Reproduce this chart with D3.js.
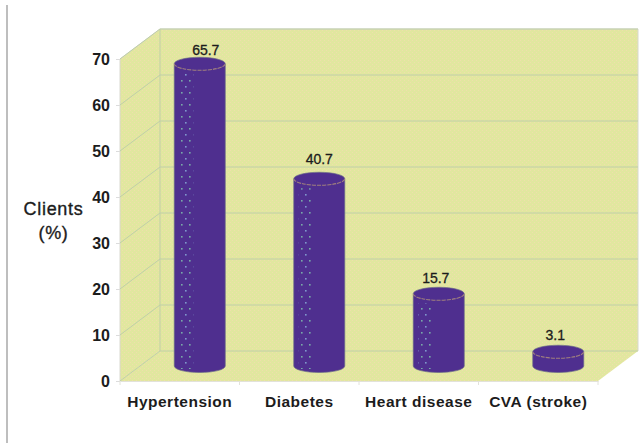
<!DOCTYPE html>
<html>
<head>
<meta charset="utf-8">
<script src="https://cdn.jsdelivr.net/npm/d3@7"></script>
<style>
  html, body { margin: 0; padding: 0; background: #fff; }
  svg { display: block; }
  text { font-family: "Liberation Sans", Arial, sans-serif; fill: #1c1c1c; }
</style>
</head>
<body>
<svg id="chart" width="644" height="443"></svg>
<script>
const categories = ["Hypertension", "Diabetes", "Heart disease", "CVA (stroke)"];
const clientPercent = [65.7, 40.7, 15.7, 3.1];
const percentTicks = [0, 10, 20, 30, 40, 50, 60, 70];
const axisTitle = ["Clients", "(%)"];

const svg = d3.select("#chart");
const defs = svg.append("defs");

// Front edge of the 3D box; the back wall is this plane pushed by depth
const depth = { x: 40, y: -30 };
const x = d3.scaleBand().domain(categories).range([120, 598]);
const y = d3.scaleLinear().domain([0, 70]).range([381, 59]);

const wallColor = "#e1e79f";
const gridColor = "#bfcfa8";
const barColor = "#4f2f8f";

// Stippled wall fill
const wallPattern = defs.append("pattern")
  .attr("id", "wallDots").attr("patternUnits", "userSpaceOnUse")
  .attr("width", 4).attr("height", 4);
wallPattern.append("rect").attr("width", 4).attr("height", 4).attr("fill", wallColor);
wallPattern.append("rect").attr("x", 0).attr("y", 0).attr("width", 1).attr("height", 1).attr("fill", "#efdfac");
wallPattern.append("rect").attr("x", 2).attr("y", 2).attr("width", 1).attr("height", 1).attr("fill", "#efdfac");

// Sparse pale highlight flecks on the lit side of each cylinder
const flecks = defs.append("pattern")
  .attr("id", "barFlecks").attr("patternUnits", "userSpaceOnUse")
  .attr("width", 8).attr("height", 12);
flecks.append("rect").attr("x", 1).attr("y", 2).attr("width", 1.6).attr("height", 1.6).attr("fill", "#7f97cc");
flecks.append("rect").attr("x", 5).attr("y", 8).attr("width", 1.6).attr("height", 1.6).attr("fill", "#78a8a8");

// Page rule down the left margin
svg.append("line")
  .attr("x1", 7).attr("x2", 7).attr("y1", 5).attr("y2", 443)
  .attr("stroke", "#a3a3a3").attr("stroke-width", 1.4);

// Box: side wall, floor and back wall
const [x0, x1] = x.range();
const yBottom = y(0), yTop = y(70);
const boxFaces = [
  [[x0, yBottom], [x0 + depth.x, yBottom + depth.y], [x0 + depth.x, yTop + depth.y], [x0, yTop]],
  [[x0, yBottom], [x1, yBottom], [x1 + depth.x, yBottom + depth.y], [x0 + depth.x, yBottom + depth.y]],
  [[x0 + depth.x, yBottom + depth.y], [x1 + depth.x, yBottom + depth.y], [x1 + depth.x, yTop + depth.y], [x0 + depth.x, yTop + depth.y]]
];
svg.append("g").selectAll("path").data(boxFaces).join("path")
  .attr("d", d => d3.line()(d) + "Z")
  .attr("fill", "url(#wallDots)");

// Outer edges of the box
svg.append("path")
  .attr("d", d3.line()([[x0, yBottom], [x0, yTop], [x0 + depth.x, yTop + depth.y], [x1 + depth.x, yTop + depth.y], [x1 + depth.x, yBottom + depth.y]]))
  .attr("fill", "none").attr("stroke", "#d8d8d0").attr("stroke-width", 1);

// Gridlines wrap from the side wall across the back wall
svg.append("g").selectAll("path").data(percentTicks).join("path")
  .attr("d", t => d3.line()([
    [x0, y(t)],
    [x0 + depth.x, y(t) + depth.y],
    [x1 + depth.x, y(t) + depth.y]
  ]))
  .attr("fill", "none").attr("stroke", gridColor).attr("stroke-width", 1);

// Back corner of the box
svg.append("line")
  .attr("x1", x0 + depth.x).attr("x2", x0 + depth.x)
  .attr("y1", yBottom + depth.y).attr("y2", yTop + depth.y)
  .attr("stroke", gridColor).attr("stroke-width", 1);

// Value axis: labels and short ticks
const yAxis = svg.append("g")
  .attr("transform", `translate(${x0},0)`)
  .call(d3.axisLeft(y).tickValues(percentTicks).tickSize(4).tickPadding(6));
yAxis.select(".domain").remove();
yAxis.selectAll("line").attr("stroke", "#dcdcdc");
yAxis.selectAll("text")
  .style("font-family", '"Liberation Sans", Arial, sans-serif')
  .style("font-size", "16px").style("font-weight", "bold").attr("fill", "#1c1c1c");

// Category axis: labels and separators along the front edge
const xAxis = svg.append("g")
  .attr("transform", `translate(0,${yBottom})`)
  .call(d3.axisBottom(x).tickSize(0).tickPadding(15));
xAxis.select(".domain").attr("stroke", "#e2e2da");
xAxis.selectAll("text")
  .style("font-family", '"Liberation Sans", Arial, sans-serif')
  .style("font-size", "15.5px").style("font-weight", "bold")
  .style("letter-spacing", "0.5px").attr("fill", "#1c1c1c");
xAxis.append("g").selectAll("line")
  .data(categories.map(c => x(c)).concat(x1)).join("line")
  .attr("x1", d => d).attr("x2", d => d).attr("y1", 0).attr("y2", 4)
  .attr("stroke", "#e2e2da");

// Axis title
svg.append("g").selectAll("text").data(axisTitle).join("text")
  .attr("x", 53.5).attr("y", (d, i) => 215 + i * 24)
  .attr("text-anchor", "middle")
  .style("font-size", "18px").style("letter-spacing", "0.7px")
  .style("stroke", "#1c1c1c").style("stroke-width", 0.35)
  .text(d => d);

// Cylinders stand mid-way through the depth of the box
const radiusX = 25.5, radiusY = 6.5;
const centerX = c => x(c) + x.bandwidth() / 2 + depth.x / 2;
const baseY = yBottom + depth.y / 2;
const topY = v => y(v) + depth.y / 2;

const cylinderBody = (c, v) => {
  const cx = centerX(c), top = topY(v);
  return `M${cx - radiusX},${top}` +
    `A${radiusX},${radiusY} 0 0 1 ${cx + radiusX},${top}` +
    `L${cx + radiusX},${baseY}` +
    `A${radiusX},${radiusY} 0 0 1 ${cx - radiusX},${baseY}Z`;
};

const bars = svg.append("g").selectAll("g")
  .data(categories.map((c, i) => ({ c, v: clientPercent[i] })))
  .join("g");

bars.append("path")
  .attr("d", d => cylinderBody(d.c, d.v))
  .attr("fill", barColor).attr("stroke", "#6a6a88").attr("stroke-width", 0.7);

// Highlight strip, kept below the top rim
bars.filter(d => d.v > 10).append("rect")
  .attr("x", d => centerX(d.c) - radiusX + 5)
  .attr("width", 14)
  .attr("y", d => topY(d.v) + radiusY + 3)
  .attr("height", d => baseY - topY(d.v) - radiusY)
  .attr("fill", "url(#barFlecks)");

// Front rim of the top cap
bars.append("path")
  .attr("d", d => {
    const cx = centerX(d.c), top = topY(d.v);
    return `M${cx - radiusX},${top}A${radiusX},${radiusY} 0 0 0 ${cx + radiusX},${top}`;
  })
  .attr("fill", "none").attr("stroke", "#a0807e").attr("stroke-width", 1.1)
  .attr("stroke-dasharray", "4 1");

// Value labels sit just above each cap
const labelShiftX = [6, 0, -3, -3];
const labelGap = [2, 8, 4, 5];
bars.append("text")
  .attr("x", (d, i) => centerX(d.c) + labelShiftX[i])
  .attr("y", (d, i) => topY(d.v) - radiusY - labelGap[i])
  .attr("text-anchor", "middle")
  .style("font-size", "14px")
  .style("stroke", "#1c1c1c").style("stroke-width", 0.3)
  .text(d => d.v);
</script>
</body>
</html>
